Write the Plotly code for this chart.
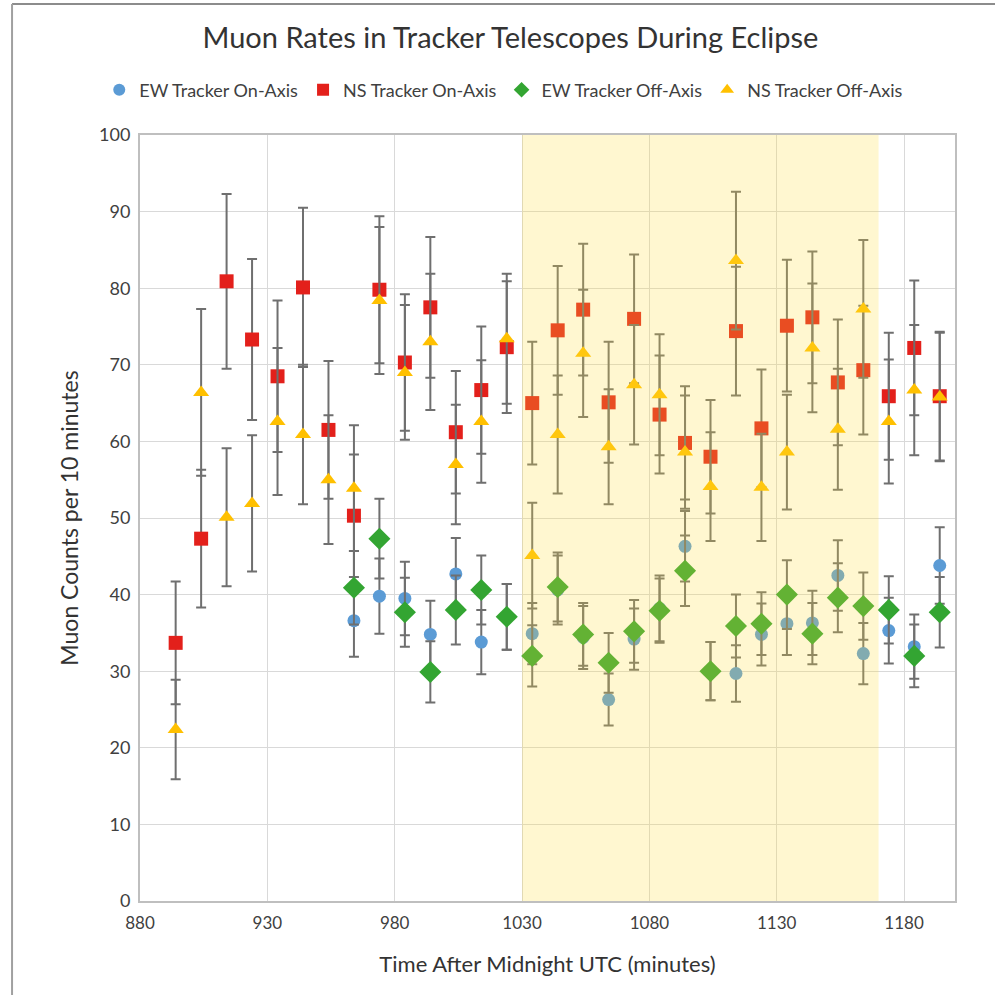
import plotly.graph_objects as go

# Time bins (minutes after midnight UTC)
times = [894, 904, 914, 924, 934, 944, 954, 964, 974, 984, 994, 1004, 1014, 1024, 1034, 1044,
         1054, 1064, 1074, 1084, 1094, 1104, 1114, 1124, 1134, 1144, 1154, 1164, 1174, 1184, 1194]

ns_on = [33.7, 47.3, 80.9, 73.3, 68.5, 80.1, 61.5, 50.3, 79.8, 70.3, 77.5, 61.2, 66.7, 72.3, 65.0, 74.5,
         77.2, 65.1, 76.0, 63.5, 59.8, 58.0, 74.4, 61.7, 75.1, 76.2, 67.7, 69.3, 65.9, 72.2, 65.9]
ns_on_err = [8.0, 9.0, 11.4, 10.5, 9.9, 10.4, 9.0, 8.0, 9.6, 8.9, 9.2, 8.0, 8.3, 8.6, 8.0, 8.4,
             8.6, 7.9, 8.4, 7.7, 7.4, 7.4, 8.4, 7.7, 8.6, 8.6, 8.2, 8.4, 8.3, 8.8, 8.4]

ns_off = [22.4, 66.4, 50.1, 51.9, 62.6, 60.9, 55.0, 53.9, 78.4, 69.0, 73.0, 57.0, 62.6, 73.4, 45.1, 60.9,
          71.5, 59.3, 67.4, 66.1, 58.6, 54.1, 83.6, 54.0, 58.6, 72.2, 61.6, 77.3, 62.6, 66.7, 65.8]
ns_off_err = [6.5, 10.9, 9.0, 8.9, 9.6, 9.1, 8.4, 8.2, 9.6, 8.8, 8.9, 7.8, 8.0, 8.5, 6.9, 7.7,
              8.3, 7.5, 7.8, 7.9, 7.4, 7.1, 9.0, 7.0, 7.5, 8.4, 7.9, 9.0, 8.1, 8.5, 8.4]

ew_on = [None, None, None, None, None, None, None, 36.6, 39.8, 39.5, 34.8, 42.7, 33.8, 37.1, 34.9, 40.6,
         34.4, 26.3, 34.2, 38.2, 46.3, 30.0, 29.7, 34.8, 36.2, 36.3, 42.5, 32.3, 35.3, 33.2, 43.8]
ew_on_err = [None, None, None, None, None, None, None, 4.7, 4.9, 4.8, 4.4, 4.7, 4.2, 4.3, 4.0, 4.5,
             4.1, 3.4, 4.0, 4.3, 4.6, 3.8, 3.7, 4.05, 4.1, 4.2, 4.6, 4.0, 4.3, 4.2, 5.0]

ew_off = [None, None, None, None, None, None, None, 40.9, 47.3, 37.7, 29.9, 38.0, 40.6, 37.1, 32.0, 41.0,
          34.8, 31.1, 35.2, 37.9, 43.1, 30.0, 35.9, 36.2, 40.0, 34.9, 39.6, 38.5, 38.0, 32.0, 37.7]
ew_off_err = [None, None, None, None, None, None, None, 4.8, 5.2, 4.5, 4.0, 4.5, 4.5, 4.3, 4.0, 4.5,
              4.1, 3.9, 4.1, 4.2, 4.6, 3.8, 4.1, 4.1, 4.5, 4.0, 4.5, 4.4, 4.4, 4.1, 4.6]

eclipse_start = 1030
eclipse_end = 1170

FONT = "Lato"
ERR_COL = "#6f6f6f"

series = [
    ("EW Tracker On-Axis", ew_on, ew_on_err, "circle", "#5B9BD5", 13),
    ("NS Tracker On-Axis", ns_on, ns_on_err, "square", "#E3201B", 14),
    ("EW Tracker Off-Axis", ew_off, ew_off_err, "diamond", "#33A532", 17),
    ("NS Tracker Off-Axis", ns_off, ns_off_err, "triangle-up", "#FFC000", 14),
]

fig = go.Figure()
for name, vals, errs, sym, col, sz in series:
    fig.add_trace(go.Scatter(
        x=times, y=vals, mode="markers", name=name,
        marker=dict(symbol=sym, color=col, size=sz, line=dict(width=0)),
        error_y=dict(type="data", array=errs, visible=True, color=ERR_COL,
                     thickness=2, width=5),
    ))

# eclipse shading (semi-transparent overlay)
fig.add_shape(type="rect", xref="x", yref="y", x0=eclipse_start, x1=eclipse_end, y0=0, y1=100,
              fillcolor="rgba(255,222,60,0.24)", line=dict(width=0), layer="above")

# outer frame lines (top and left)
fig.add_shape(type="line", xref="paper", yref="paper", x0=-0.157, x1=1.06, y0=1.171, y1=1.171,
              line=dict(color="#8c8c8c", width=2))
fig.add_shape(type="line", xref="paper", yref="paper", x0=-0.157, x1=-0.157, y0=1.171, y1=-0.13,
              line=dict(color="#a0a0a0", width=2))

fig.update_layout(
    width=995, height=995,
    paper_bgcolor="white", plot_bgcolor="white",
    margin=dict(l=140, r=40, t=135, b=94),
    font=dict(family=FONT, color="#404040", size=17),
    title=dict(text="Muon Rates in Tracker Telescopes During Eclipse",
               x=0.513, xanchor="center", y=0.962, yanchor="middle",
               font=dict(family=FONT, size=29, color="#333333")),
    legend=dict(orientation="h", x=-0.05, xanchor="left", y=1.0587, yanchor="middle",
                font=dict(family=FONT, size=18, color="#404040"),
                itemsizing="constant", traceorder="normal", itemwidth=30),
    showlegend=True,
)

fig.update_xaxes(
    range=[880, 1200], tick0=880, dtick=50, showgrid=True, gridcolor="#D9D9D9", gridwidth=1,
    showline=True, linecolor="#BFBFBF", linewidth=2, mirror=True, ticks="", zeroline=False,
    tickfont=dict(family=FONT, size=17, color="#404040"), ticklabelstandoff=6,
    title=dict(text="Time After Midnight UTC (minutes)", font=dict(family=FONT, size=22, color="#333333"),
               standoff=24),
)
fig.update_yaxes(
    range=[0, 100], tick0=0, dtick=10, showgrid=True, gridcolor="#D9D9D9", gridwidth=1,
    showline=True, linecolor="#BFBFBF", linewidth=2, mirror=True, ticks="", zeroline=False,
    tickfont=dict(family=FONT, size=18, color="#404040"), ticklabelstandoff=4,
    title=dict(text="Muon Counts per 10 minutes", font=dict(family=FONT, size=23, color="#333333"),
               standoff=14),
)

fig.write_html("out.html", config={"displayModeBar": False},
               post_script="document.body.style.margin='0px';")
